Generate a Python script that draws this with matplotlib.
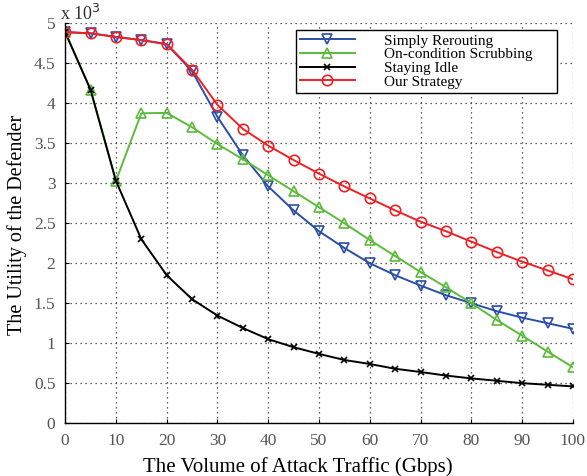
import matplotlib
matplotlib.use("Agg")
import matplotlib.pyplot as plt

x = [0, 5, 10, 15, 20, 25, 30, 35, 40, 45, 50, 55, 60, 65, 70, 75, 80, 85, 90, 95, 100]
simply_rerouting = [4.89, 4.875, 4.83, 4.79, 4.74, 4.40, 3.83, 3.35, 2.96, 2.66, 2.40,
                    2.19, 2.00, 1.85, 1.72, 1.60, 1.50, 1.40, 1.32, 1.25, 1.18]
on_condition = [4.89, 4.17, 3.03, 3.875, 3.88, 3.70, 3.49, 3.30, 3.10, 2.90, 2.70,
                2.50, 2.29, 2.09, 1.89, 1.70, 1.50, 1.29, 1.095, 0.895, 0.70]
staying_idle = [4.89, 4.17, 3.03, 2.30, 1.85, 1.55, 1.345, 1.19, 1.05, 0.95, 0.866,
                0.79, 0.74, 0.68, 0.64, 0.595, 0.56, 0.53, 0.50, 0.48, 0.46]
our_strategy = [4.89, 4.875, 4.83, 4.79, 4.74, 4.42, 3.98, 3.68, 3.47, 3.29, 3.12,
                2.96, 2.81, 2.66, 2.52, 2.40, 2.27, 2.14, 2.02, 1.91, 1.80]
labels = ["Simply Rerouting", "On-condition Scrubbing", "Staying Idle", "Our Strategy"]
xticks = list(range(0, 101, 10))
yticks = [0, 0.5, 1, 1.5, 2, 2.5, 3, 3.5, 4, 4.5, 5]
ytick_labels = ["0", "0.5", "1", "1.5", "2", "2.5", "3", "3.5", "4", "4.5", "5"]

plt.rcParams['font.family'] = ['Liberation Serif', 'DejaVu Serif']

fig = plt.figure(figsize=(5.87, 4.76), dpi=100)
ax = fig.add_axes([0.111, 0.111, 0.865, 0.840])

blue = '#2b4ea6'
green = '#5cbb3c'
red = '#ec2227'

ax.plot(x, simply_rerouting, color=blue, lw=1.4, marker='v', ms=7.5, mfc='none', mec=blue, mew=1.2, label=labels[0])
ax.plot(x, on_condition, color=green, lw=1.4, marker='^', ms=7.5, mfc='none', mec=green, mew=1.2, label=labels[1])
ax.plot(x, staying_idle, color='black', lw=1.4, marker='x', ms=4, mec='black', mew=1.2, label=labels[2])
ax.plot(x, our_strategy, color=red, lw=1.4, marker='o', ms=7.5, mfc='none', mec=red, mew=1.2, label=labels[3])

ax.set_xlim(0, 100)
ax.set_ylim(0, 5)
ax.set_xticks(xticks)
ax.set_yticks(yticks)
ax.set_yticklabels(ytick_labels)
ax.grid(True, color='#333333', linestyle=(0, (1, 3)), linewidth=0.9)
ax.set_axisbelow(True)
for s in ['top', 'right']:
    ax.spines[s].set_visible(False)
ax.spines['left'].set_linewidth(1.0)
ax.spines['bottom'].set_linewidth(1.0)
ax.tick_params(direction='in', length=3, labelsize=12.5, colors='black', labelcolor='#555555', pad=7)

ax.set_xlabel("The Volume of Attack Traffic (Gbps)", fontsize=15, labelpad=5)
ax.xaxis.set_label_coords(0.459, -0.085)
ax.set_ylabel("The Utility of the Defender", fontsize=14.5)
ax.yaxis.set_label_coords(-0.0755, 0.495)

fig.text(0.102, 0.950, r"x 10$^{3}$", fontsize=13, color='#333333', ha='left', va='bottom')

leg = ax.legend(loc='upper left', bbox_to_anchor=(0.4544, 0.783, 0.514, 0.2), mode='expand',
                fontsize=11, frameon=True, fancybox=False, edgecolor='black', framealpha=1,
                handlelength=3.6, handletextpad=1.9, labelspacing=0.0,
                borderpad=0.25, borderaxespad=0)
leg.get_frame().set_linewidth(1.0)

fig.savefig("out.png", dpi=100)
